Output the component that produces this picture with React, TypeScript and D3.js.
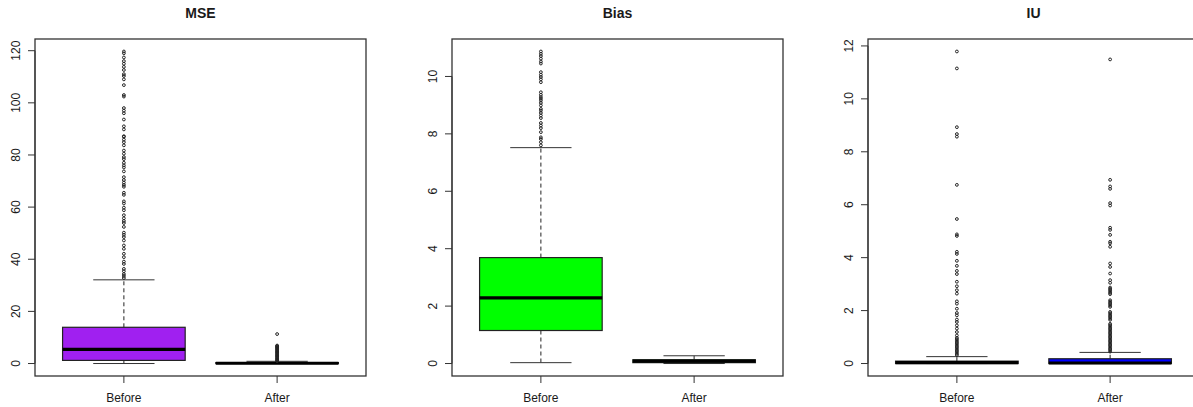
import React from 'react';
import * as d3 from 'd3';

// categories and panel titles
const categories = ['Before', 'After'];
const panelTitles = ['MSE', 'Bias', 'IU'];
const panelColors = ['#A020F0', '#00FF00', '#0000FF'];

// y tick labels
const mseTicks = [0, 20, 40, 60, 80, 100, 120];
const biasTicks = [0, 2, 4, 6, 8, 10];
const iuTicks = [0, 2, 4, 6, 8, 10, 12];

// box stats: [lower whisker, q1, median, q3, upper whisker]
const mseStats = [
  [0, 1.2, 5.4, 13.9, 32.1],
  [0, 0, 0.1, 0.35, 0.85],
];
const biasStats = [
  [0.03, 1.15, 2.29, 3.69, 7.52],
  [0, 0.03, 0.08, 0.13, 0.27],
];
const iuStats = [
  [0, 0, 0.03, 0.09, 0.26],
  [0, 0, 0.02, 0.18, 0.42],
];

// outliers
const mseOutBefore = [119.7, 119, 117.4, 116, 115, 113.8, 112.6, 111, 110.3, 109, 106.8, 103, 102.4,
  98, 97, 96, 93.6, 91, 89.8, 87.2, 87, 85.9, 84.9, 83.7, 81.7, 80.5, 79.2, 78.4, 77, 76, 75.2,
  73.7, 71.5, 70.4, 69.4, 68.5, 67.8, 65.5, 64.7, 62.2, 61.4, 59.8, 58.8, 56.9, 55.7, 54.7, 53.9,
  52.4, 50.2, 49.4, 48.5, 47.2, 45.3, 44, 42.1, 40.8, 39.1, 38.2, 36.3, 35.4, 34.3, 33.6, 32.8];
const mseOutAfter = [11.3, 6.9, 6.7, 6.4, 6.2, 5.9, 5.6, 5.3, 5.0, 4.7, 4.4, 4.1, 3.8, 3.5, 3.2,
  2.9, 2.6, 2.3, 2.0, 1.7, 1.4, 1.1, 0.9];
const biasOutBefore = [10.87, 10.79, 10.71, 10.62, 10.52, 10.45, 10.15, 10.06, 9.98, 9.9, 9.8,
  9.45, 9.36, 9.28, 9.22, 9.16, 9.08, 8.99, 8.87, 8.81, 8.73, 8.64, 8.55, 8.38, 8.29, 8.2, 8.06,
  7.88, 7.82, 7.71, 7.6];
const biasOutAfter: number[] = [];
const iuOutBefore = [11.79, 11.15, 8.93, 8.67, 8.57, 6.75, 5.46, 4.88, 4.82, 4.22, 4.14, 3.88,
  3.69, 3.5, 3.38, 3.09, 2.92, 2.77, 2.64, 2.35, 2.26, 2.07, 1.91, 1.82, 1.66, 1.57, 1.44, 1.32,
  1.19, 1.06, 0.97, 0.92, 0.87, 0.82, 0.77, 0.72, 0.67, 0.62, 0.57, 0.52, 0.47, 0.42, 0.37, 0.32];
const iuOutAfter = [11.49, 6.94, 6.69, 6.6, 6.06, 5.97, 5.13, 5.05, 4.86, 4.6, 4.54, 4.41, 3.78,
  3.65, 3.4, 3.15, 3.05, 2.87, 2.82, 2.77, 2.72, 2.67, 2.62, 2.39, 2.34, 2.29, 2.24, 2.19, 2.14,
  1.95, 1.9, 1.85, 1.8, 1.75, 1.7, 1.65, 1.5, 1.45, 1.4, 1.35, 1.3, 1.25, 1.2, 1.15, 1.1, 1.05,
  1.0, 0.95, 0.9, 0.85, 0.8, 0.75, 0.7, 0.65, 0.6, 0.55, 0.5, 0.45];

const panels = [
  { title: panelTitles[0], fill: panelColors[0], ticks: mseTicks, stats: mseStats, outs: [mseOutBefore, mseOutAfter] },
  { title: panelTitles[1], fill: panelColors[1], ticks: biasTicks, stats: biasStats, outs: [biasOutBefore, biasOutAfter] },
  { title: panelTitles[2], fill: panelColors[2], ticks: iuTicks, stats: iuStats, outs: [iuOutBefore, iuOutAfter] },
];

const W = 1193, H = 407;
const plotTop = 39, plotBottom = 376, plotW = 331;
const panelLefts = [35, 452, 868];
const font = 'Liberation Sans, Arial, sans-serif';
const ink = '#1a1a1a';

const Panel = ({ p, left }: any) => {
  const all = [...p.stats.flat(), ...p.outs.flat()];
  const [lo, hi] = d3.extent(all) as [number, number];
  const pad = (hi - lo) * 0.04;
  const y = d3.scaleLinear().domain([lo - pad, hi + pad]).range([plotBottom, plotTop]);
  const x = d3.scaleLinear().domain([0.42, 2.58]).range([left, left + plotW]);
  const boxHalf = x(1.4) - x(1);
  const capHalf = boxHalf / 2;

  return (
    <g>
      <text x={left + plotW / 2} y={18} textAnchor="middle" fontFamily={font} fontWeight="bold" fontSize={14} fill={ink}>{p.title}</text>
      {categories.map((c, i) => {
        const cx = x(i + 1);
        const [wl, q1, md, q3, wh] = p.stats[i];
        return (
          <g key={c}>
            <line x1={cx} x2={cx} y1={y(q3)} y2={y(wh)} stroke="#222" strokeDasharray="4,3" />
            <line x1={cx} x2={cx} y1={y(q1)} y2={y(wl)} stroke="#222" strokeDasharray="4,3" />
            <line x1={cx - capHalf} x2={cx + capHalf} y1={y(wh)} y2={y(wh)} stroke="#333" />
            <line x1={cx - capHalf} x2={cx + capHalf} y1={y(wl)} y2={y(wl)} stroke="#333" />
            <rect x={cx - boxHalf} y={y(q3)} width={boxHalf * 2} height={Math.max(0.5, y(q1) - y(q3))}
              fill={p.fill} stroke="#222" strokeWidth={1.2} />
            <line x1={cx - boxHalf} x2={cx + boxHalf} y1={y(md)} y2={y(md)} stroke="#000" strokeWidth={3.2} />
            {p.outs[i].map((v: number, k: number) => (
              <circle key={k} cx={cx} cy={y(v)} r={1.4} fill="none" stroke="#222" strokeWidth={1} />
            ))}
          </g>
        );
      })}
      <rect x={left} y={plotTop} width={plotW} height={plotBottom - plotTop} fill="none" stroke="#333" strokeWidth={1.3} />
      {/* y axis */}
      <line x1={left} x2={left} y1={y(p.ticks[0])} y2={y(p.ticks[p.ticks.length - 1])} stroke="#333" />
      {p.ticks.map((t: number) => (
        <g key={t}>
          <line x1={left - 7} x2={left} y1={y(t)} y2={y(t)} stroke="#333" />
          <text transform={`translate(${left - 15.5},${y(t)}) rotate(-90)`} textAnchor="middle"
            fontFamily={font} fontSize={12} fill={ink}>{t}</text>
        </g>
      ))}
      {/* x axis */}
      {categories.map((c, i) => (
        <g key={c}>
          <line x1={x(i + 1)} x2={x(i + 1)} y1={plotBottom} y2={plotBottom + 7} stroke="#333" />
          <text x={x(i + 1)} y={402} textAnchor="middle" fontFamily={font} fontSize={12} fill={ink}>{c}</text>
        </g>
      ))}
    </g>
  );
};

export default function App() {
  return (
    <svg width={W} height={H} style={{ position: 'absolute', left: 0, top: 0, background: '#fff' }}>
      <rect width={W} height={H} fill="#fff" />
      {panels.map((p, i) => <Panel key={p.title} p={p} left={panelLefts[i]} />)}
    </svg>
  );
}
